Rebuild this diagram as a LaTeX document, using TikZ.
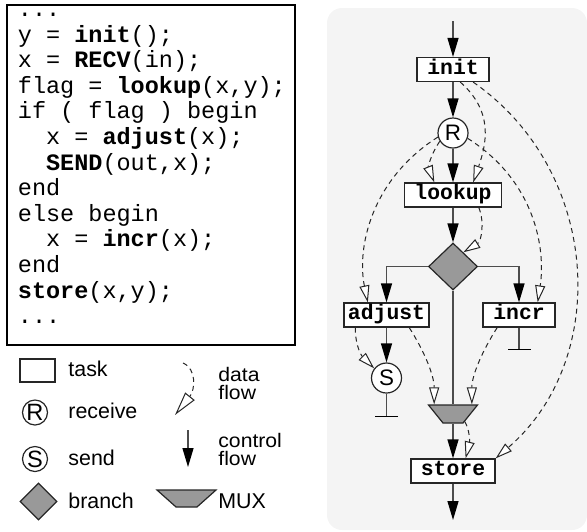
\documentclass[tikz,border=0pt]{standalone}
\usepackage{fontspec}
\usepackage{graphicx}
\newfontfamily\codefont{Liberation Mono}
\newfontfamily\labelfont{Liberation Sans}
\usetikzlibrary{arrows.meta, shapes.geometric}

\definecolor{panelgray}{gray}{0.955}
\definecolor{shadegray}{gray}{0.6}

% wide, squat label text for the two-line legend entries
\newcommand{\widetext}[1]{\scalebox{1.08}[1]{#1}}

\tikzset{
	code/.style={anchor=base west, inner sep=0pt, font=\codefont\fontsize{11.75}{13}\selectfont},
	task/.style={rectangle, draw=black!85, fill=white, line width=0.6pt, inner sep=0pt,
		minimum height=12pt, text height=6.5pt, text depth=1.8pt,
		font=\codefont\bfseries\fontsize{10.7}{12}\selectfont},
	port/.style={circle, draw=black!85, fill=white, line width=0.6pt, inner sep=0pt,
		minimum size=15pt, font=\labelfont\fontsize{11.2}{12}\selectfont},
	branch/.style={diamond, draw=black!85, fill=shadegray, line width=0.6pt, inner sep=0pt,
		minimum width=24.5pt, minimum height=23.5pt},
	mux/.style={trapezium, trapezium angle=54, trapezium stretches=true, shape border rotate=180,
		draw=black!85, fill=shadegray, line width=0.6pt, inner sep=1pt,
		minimum width=24.5pt, minimum height=9pt},
	key/.style={anchor=base west, inner sep=0pt, font=\labelfont\fontsize{10.7}{12}\selectfont},
	keysmall/.style={key, font=\labelfont\fontsize{9.8}{10}\selectfont},
	ctrl/.style={draw=black!70, line width=0.65pt, -{Triangle[length=9.5pt, width=5.5pt, color=black, fill=black]}},
	dflow/.style={draw=black!85, line width=0.5pt, dash pattern=on 2.5pt off 2pt,
		-{Triangle[length=8.5pt, width=5pt, fill=white]}},
	stub/.style={draw=black!70, line width=0.65pt, -{Bar[width=11.5pt, color=black]}}
}

\begin{document}
\begin{tikzpicture}[x=0.5pt, y=0.5pt]
	\useasboundingbox (0,0) rectangle (587,-531);

	% source listing
	\draw[line width=0.65pt] (7,-5) rectangle (295,-345);
	\node[code] (C1) at (17.5,-16.5) {...};
	\node[code] (C2) at (17.5,-42.1) {y = \textbf{init}();};
	\node[code] (C3) at (17.5,-67.7) {x = \textbf{RECV}(in);};
	\node[code] (C4) at (17.5,-93.3) {flag = \textbf{lookup}(x,y);};
	\node[code] (C5) at (17.5,-118.9) {if ( flag ) begin};
	\node[code] (C6) at (45.7,-144.5) {x = \textbf{adjust}(x);};
	\node[code] (C7) at (45.7,-170.1) {\textbf{SEND}(out,x);};
	\node[code] (C8) at (17.5,-195.7) {end};
	\node[code] (C9) at (17.5,-221.3) {else begin};
	\node[code] (C10) at (45.7,-246.9) {x = \textbf{incr}(x);};
	\node[code] (C11) at (17.5,-272.5) {end};
	\node[code] (C12) at (17.5,-298.1) {\textbf{store}(x,y);};
	\node[code] (C13) at (17.5,-323.7) {...};

	% legend
	\node[task, minimum width=17.5pt, minimum height=11.5pt] (keytask) at (37.5,-370.5) {};
	\node[key] (keytasklbl) at (68,-376.7) {task};
	\node[port, minimum size=12.5pt, font=\labelfont\fontsize{11.8}{12}\selectfont] (keyR) at (35,-412.5) {R};
	\node[key] (keyRlbl) at (68,-418.3) {receive};
	\node[port, minimum size=12.5pt, font=\labelfont\fontsize{11.8}{12}\selectfont] (keyS) at (35,-459) {S};
	\node[key] (keySlbl) at (68,-465) {send};
	\node[branch, minimum width=18.5pt, minimum height=18.5pt] (keybranch) at (38.5,-501.5) {};
	\node[key] (keybranchlbl) at (68,-508.3) {branch};

	\coordinate (keyd1) at (183,-363);
	\coordinate (keyd2) at (175,-415);
	\draw[dflow, -{Triangle[length=12pt, width=6pt, fill=white]}] (keyd1) .. controls +(14,-6) and +(20,25) .. (keyd2);
	\node[keysmall] (keydlbl1) at (218,-381) {\widetext{data}};
	\node[keysmall] (keydlbl2) at (218,-399) {\widetext{flow}};

	\coordinate (keyc1) at (188,-430);
	\coordinate (keyc2) at (188,-467);
	\draw[ctrl] (keyc1) -- (keyc2);
	\node[keysmall] (keyclbl1) at (218,-447.5) {\widetext{control}};
	\node[keysmall] (keyclbl2) at (218,-465.5) {\widetext{flow}};

	\node[mux, trapezium angle=47.6, minimum width=29.5pt, minimum height=8.5pt] (keymux) at (186.5,-498.5) {};
	\node[key] (keymuxlbl) at (218,-508.3) {MUX};

	% task graph
	\fill[panelgray, rounded corners=7.5pt] (327,-8) rectangle (587,-530);

	\node[task, minimum width=36pt] (init) at (453,-69.5) {init};
	\node[port] (R) at (453,-133) {R};
	\node[task, minimum width=48.5pt] (lookup) at (453,-195) {lookup};
	\node[branch] (dec) at (453,-266.5) {};
	\node[task, minimum width=42.5pt] (adjust) at (386.5,-315) {adjust};
	\node[task, minimum width=36pt] (incr) at (519,-315) {incr};
	\node[port] (S) at (386.5,-378) {S};
	\node[mux] (mux) at (453,-414) {};
	\node[task, minimum width=42pt] (store) at (453,-471) {store};

	\coordinate (entry) at (453,-21);
	\coordinate (exit) at (453,-520);
	\coordinate (sendend) at (386.5,-417);
	\coordinate (incrend) at (519,-350);

	% control flow
	\draw[ctrl] (entry) -- (init);
	\draw[ctrl] (init) -- (R);
	\draw[ctrl] (R) -- (lookup);
	\draw[ctrl] (lookup) -- (dec);
	\draw[ctrl] (dec.west) -| (adjust.north);
	\draw[ctrl] (dec.east) -| (incr.north);
	\draw[ctrl] (adjust) -- (S);
	\draw[stub] (S) -- (sendend);
	\draw[stub] (incr) -- (incrend);
	\draw[ctrl, -] (dec.south) -- (mux.90);
	\draw[ctrl] (mux.-90) -- (store);
	\draw[ctrl] (store) -- (exit);

	% data flow
	\draw[dflow] (init.-60) .. controls +(34,-30) and +(13,38) .. (lookup.32);
	\draw[dflow] (R.-148) .. controls +(-10,-15) and +(-6,15) .. (lookup.146);
	\draw[dflow] (R.-165) .. controls +(-68,-43) and +(-11,53) .. (adjust.146);
	\draw[dflow] (R.-20) .. controls +(68,-43) and +(8,53) .. (incr.34);
	\draw[dflow] (init.-32) .. controls +(128,-89) and +(115,99) .. (store.north east);
	\draw[dflow] (lookup.-26) .. controls +(6,-15) and +(18,11) .. (dec.54);
	\draw[dflow] (adjust.-158) .. controls +(0,-20) and +(-12,12) .. (S.142);
	\draw[dflow] (adjust.-29) .. controls +(14,-22) and +(0,30) .. (mux.153);
	\draw[dflow] (incr.-150) .. controls +(-14,-22) and +(0,30) .. (mux.27);
	\draw[dflow] (mux.-33) .. controls +(5,-8) and +(4,16) .. (store.45);
\end{tikzpicture}
\end{document}
